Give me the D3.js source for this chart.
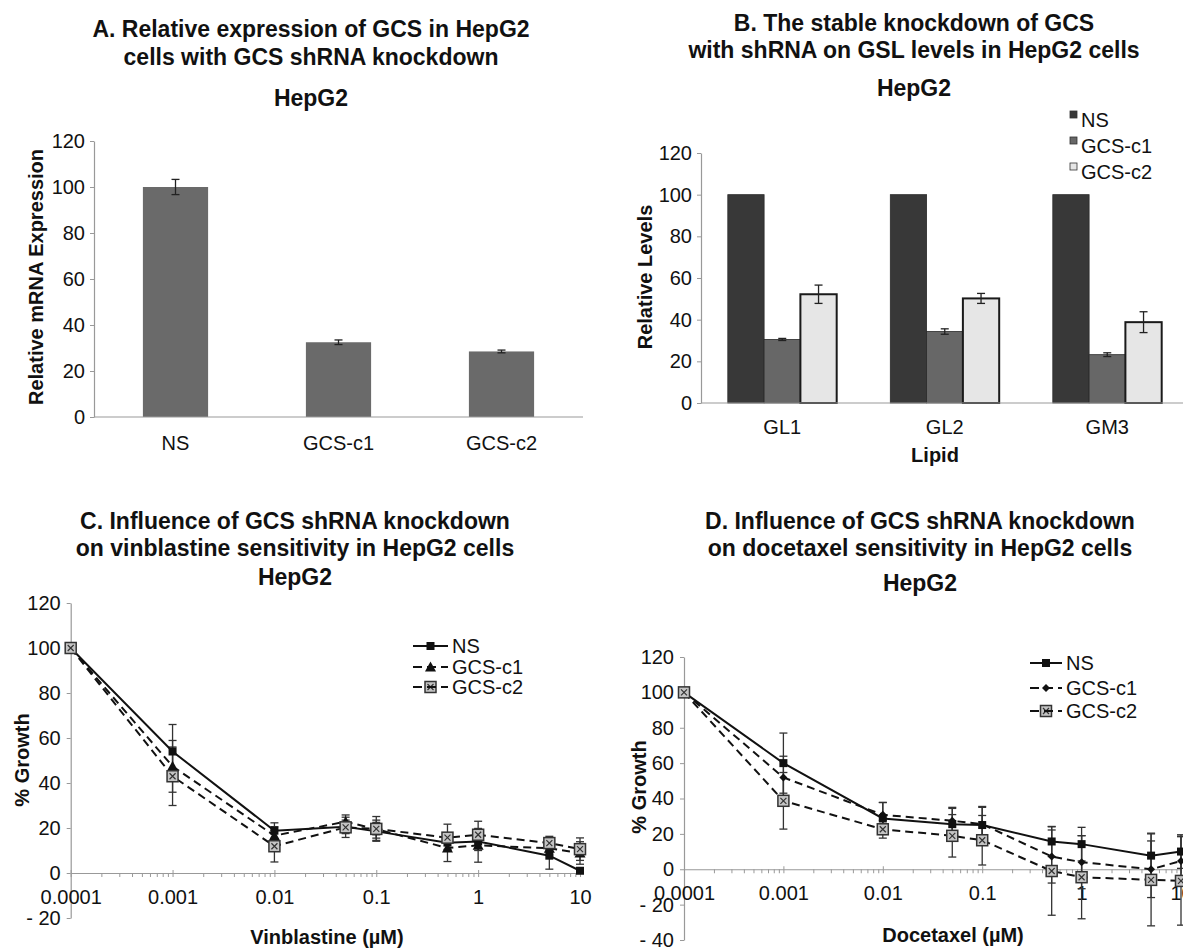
<!DOCTYPE html>
<html><head><meta charset="utf-8">
<script src="https://cdn.jsdelivr.net/npm/d3@7"></script>
<style>
body{margin:0;background:#fff;}
svg text{font-family:"Liberation Sans",Arial,sans-serif;fill:#111;}
</style></head><body>
<svg id="c" width="1183" height="949"></svg>
<script>
// ---------- DATA ----------
const groupsA = ["NS", "GCS-c1", "GCS-c2"];
const valuesA = [100, 32.5, 28.5];
const errorsA = [3.3, 1.0, 0.6];

const lipidsB = ["GL1", "GL2", "GM3"];
const seriesB = ["NS", "GCS-c1", "GCS-c2"];
const nsB = [100, 100, 100];
const c1B = [30.5, 34.3, 23.2];
const c2B = [52.2, 50.2, 38.8];
const nsErrB = [0, 0, 0];
const c1ErrB = [0.5, 1.3, 0.9];
const c2ErrB = [4.4, 2.4, 5.0];

const doses = [0.0001, 0.001, 0.01, 0.05, 0.1, 0.5, 1, 5, 10];
const decadeLabels = ["0.0001", "0.001", "0.01", "0.1", "1", "10"];
const seriesNames = ["NS", "GCS-c1", "GCS-c2"];

const vinNS = [100, 54, 18.8, 20.5, 18.5, 13.5, 14, 7.7, 1];
const vinNSErr = [0, 12, 3.5, 3, 4, 3, 4, 6, 0.5];
const vinC1 = [100, 47.4, 16.6, 22.8, 19.5, 11.1, 12.3, 11, 8.9];
const vinC1Err = [0, 11.5, 4, 3, 4, 6, 7.5, 3, 5];
const vinC2 = [100, 43, 11.9, 20.3, 19.6, 15.7, 17, 13.3, 10.6];
const vinC2Err = [0, 13, 7, 4.5, 5.5, 6, 6, 3, 5];

const docNS = [100, 60, 28.7, 25.5, 25, 15.7, 14.2, 7.7, 10];
const docNSErr = [0, 17, 9, 9.5, 10.5, 8.5, 9.5, 12.7, 9.5];
const docC1 = [100, 51.9, 30.8, 27.4, 25.5, 7.2, 4, 0, 4.7];
const docC1Err = [0, 12, 7, 7, 9.5, 15, 15, 16, 14];
const docC2 = [100, 38.7, 22.6, 18.9, 16.4, -1, -4.5, -6, -6.6];
const docC2Err = [0, 16, 5, 12, 14, 25, 23.5, 26, 25];

// ---------- HELPERS ----------
const svg = d3.select("#c");
const AXIS = "#999";
function titles(lines, x, ys) {
  lines.forEach((t, i) => svg.append("text")
    .attr("x", x).attr("y", ys[i]).attr("text-anchor", "middle")
    .attr("dominant-baseline", "central").attr("font-weight", "bold")
    .attr("font-size", 23).text(t));
}
function ylabel(t, x, y) {
  svg.append("text").attr("transform", `translate(${x},${y}) rotate(-90)`)
    .attr("text-anchor", "middle").attr("dominant-baseline", "central")
    .attr("font-weight", "bold").attr("font-size", 20).text(t);
}
function xlabel(t, x, y) {
  svg.append("text").attr("x", x).attr("y", y).attr("text-anchor", "middle")
    .attr("dominant-baseline", "central").attr("font-weight", "bold")
    .attr("font-size", 20).text(t);
}
function styleAxis(g) {
  g.select(".domain").attr("stroke", AXIS).attr("stroke-width", 1.2);
  g.selectAll(".tick line").attr("stroke", AXIS).attr("stroke-width", 1);
  g.selectAll(".tick text").attr("font-size", 20).attr("fill", "#111")
    .style("font-family", '"Liberation Sans",Arial,sans-serif');
}
function errBar(g, x, y0, y1, cap) {
  g.append("line").attr("x1", x).attr("x2", x).attr("y1", y0).attr("y2", y1);
  g.append("line").attr("x1", x - cap).attr("x2", x + cap).attr("y1", y0).attr("y2", y0);
  g.append("line").attr("x1", x - cap).attr("x2", x + cap).attr("y1", y1).attr("y2", y1);
}

// ---------- PANEL A ----------
titles(["A. Relative expression of GCS in HepG2", "cells with GCS shRNA knockdown", "HepG2"], 311, [29, 57, 98]);
{
  const x = d3.scaleBand().domain(groupsA).range([94, 583]).paddingInner(0.6).paddingOuter(0.3);
  const y = d3.scaleLinear().domain([0, 120]).range([417, 141]);
  const ga = svg.append("g").attr("transform", "translate(94,0)")
    .call(d3.axisLeft(y).tickValues(d3.range(0, 121, 20)).tickSize(4).tickSizeOuter(0).tickPadding(5));
  styleAxis(ga);
  svg.selectAll(".barA").data(groupsA).join("rect").attr("class", "barA")
    .attr("x", d => x(d)).attr("width", x.bandwidth())
    .attr("y", (d, i) => y(valuesA[i])).attr("height", (d, i) => y(0) - y(valuesA[i]))
    .attr("fill", "#6a6a6a");
  const gx = svg.append("g").attr("transform", `translate(0,${y(0)})`)
    .call(d3.axisBottom(x).tickSize(0).tickPadding(19));
  styleAxis(gx);
  gx.select(".domain").attr("d", `M94,0H583`);
  const ge = svg.append("g").attr("stroke", "#222").attr("stroke-width", 1.3);
  groupsA.forEach((d, i) => errBar(ge, x(d) + x.bandwidth() / 2, y(valuesA[i] - errorsA[i]), y(valuesA[i] + errorsA[i]), 4));
  ylabel("Relative mRNA Expression", 36, 277);
}

// ---------- PANEL B ----------
titles(["B. The stable knockdown of GCS", "with shRNA on GSL levels in HepG2 cells", "HepG2"], 914, [23, 50, 88]);
{
  const x0 = d3.scaleBand().domain(lipidsB).range([701, 1188.5]).paddingInner(0.33).paddingOuter(0.165);
  const x1 = d3.scaleBand().domain(seriesB).range([0, x0.bandwidth()]);
  const y = d3.scaleLinear().domain([0, 120]).range([403, 153]);
  const colors = { "NS": "#383838", "GCS-c1": "#676767", "GCS-c2": "#e6e6e6" };
  const vals = { "NS": nsB, "GCS-c1": c1B, "GCS-c2": c2B };
  const errs = { "NS": nsErrB, "GCS-c1": c1ErrB, "GCS-c2": c2ErrB };
  const ga = svg.append("g").attr("transform", "translate(701,0)")
    .call(d3.axisLeft(y).tickValues(d3.range(0, 121, 20)).tickSize(4).tickSizeOuter(0).tickPadding(5));
  styleAxis(ga);
  const rows = [];
  lipidsB.forEach((l, i) => seriesB.forEach(s => rows.push({ l, s, v: vals[s][i], e: errs[s][i] })));
  svg.selectAll(".barB").data(rows).join("rect").attr("class", "barB")
    .attr("x", d => x0(d.l) + x1(d.s)).attr("width", x1.bandwidth())
    .attr("y", d => y(d.v)).attr("height", d => y(0) - y(d.v))
    .attr("fill", d => colors[d.s])
    .attr("stroke", d => d.s === "GCS-c2" ? "#1a1a1a" : "#2a2a2a")
    .attr("stroke-width", d => d.s === "GCS-c2" ? 2 : 0.8);
  const gx = svg.append("g").attr("transform", `translate(0,${y(0)})`)
    .call(d3.axisBottom(x0).tickSize(0).tickPadding(17));
  styleAxis(gx);
  gx.select(".domain").attr("d", `M701,0H1183`);
  const ge = svg.append("g").attr("stroke", "#222").attr("stroke-width", 1.3);
  rows.filter(d => d.e > 0).forEach(d => errBar(ge, x0(d.l) + x1(d.s) + x1.bandwidth() / 2, y(d.v - d.e), y(d.v + d.e), 4));
  xlabel("Lipid", 935, 455);
  ylabel("Relative Levels", 645, 277);
  // legend
  const lg = svg.append("g");
  seriesB.forEach((s, i) => {
    const yy = [120, 146, 172][i];
    lg.append("rect").attr("x", 1070).attr("y", yy - 9).attr("width", 7).attr("height", 7)
      .attr("fill", colors[s]).attr("stroke", "#333").attr("stroke-width", 0.8);
    lg.append("text").attr("x", 1081).attr("y", yy).attr("dominant-baseline", "central")
      .attr("font-size", 20).text(s);
  });
}

// ---------- LINE PANELS ----------
function marker(g, type, cx, cy) {
  if (type === "square") {
    g.append("rect").attr("x", cx - 4).attr("y", cy - 4).attr("width", 8).attr("height", 8).attr("fill", "#111");
  } else if (type === "triangle") {
    g.append("path").attr("d", `M${cx},${cy - 5.5}L${cx + 5.5},${cy + 4.5}L${cx - 5.5},${cy + 4.5}Z`).attr("fill", "#111");
  } else if (type === "diamond") {
    g.append("path").attr("d", `M${cx},${cy - 4}L${cx + 4},${cy}L${cx},${cy + 4}L${cx - 4},${cy}Z`).attr("fill", "#111");
  } else {
    g.append("rect").attr("x", cx - 5.5).attr("y", cy - 5.5).attr("width", 11).attr("height", 11)
      .attr("fill", "#c4c4c4").attr("stroke", "#333").attr("stroke-width", 1.5);
    g.append("path").attr("d", `M${cx - 3},${cy - 3}L${cx + 3},${cy + 3}M${cx + 3},${cy - 3}L${cx - 3},${cy + 3}`)
      .attr("stroke", "#333").attr("stroke-width", 1.2);
  }
}
function linePanel(cfg) {
  const x = d3.scaleLog().domain([1e-4, 10]).range(cfg.xr);
  const y = d3.scaleLinear().domain(cfg.yd).range(cfg.yr);
  const ga = svg.append("g").attr("transform", `translate(${cfg.xr[0]},0)`)
    .call(d3.axisLeft(y).tickValues(d3.range(cfg.yd[0], cfg.yd[1] + 1, 20)).tickSize(4).tickSizeOuter(0).tickPadding(6)
      .tickFormat(d => d < 0 ? "- " + Math.abs(d) : d));
  styleAxis(ga);
  const minor = [];
  for (let e = -4; e <= 1; e++) for (let m = 1; m <= 9; m++) { const v = m * Math.pow(10, e); if (v <= 10.0001) minor.push(v); }
  const gx = svg.append("g").attr("transform", `translate(0,${y(0)})`)
    .call(d3.axisBottom(x).tickValues(minor).tickSize(4).tickSizeOuter(0).tickPadding(13)
      .tickFormat(d => { const k = Math.round(Math.log10(d)); return Math.abs(d - Math.pow(10, k)) < 1e-9 ? decadeLabels[k + 4] : ""; }));
  styleAxis(gx);
  gx.selectAll(".tick line").attr("y1", d => { const k = Math.round(Math.log10(d)); return Math.abs(d - Math.pow(10, k)) < 1e-9 ? -3 : 0; });
  const types = ["square", cfg.c1Marker, "xbox"];
  const dash = [null, "8,5", "8,5"];
  const ge = svg.append("g").attr("stroke", "#333").attr("stroke-width", 1.3);
  cfg.series.forEach((s, k) => s.v.forEach((v, i) => { if (s.e[i] > 0) errBar(ge, x(doses[i]), y(v - s.e[i]), y(v + s.e[i]), 4); }));
  const line = d3.line().x((d, i) => x(doses[i])).y(d => y(d));
  cfg.series.forEach((s, k) => svg.append("path").attr("d", line(s.v)).attr("fill", "none")
    .attr("stroke", "#111").attr("stroke-width", 2).attr("stroke-dasharray", dash[k]));
  const gm = svg.append("g");
  cfg.series.forEach((s, k) => s.v.forEach((v, i) => marker(gm, types[k], x(doses[i]), y(v))));
  // legend
  seriesNames.forEach((n, k) => {
    const yy = cfg.legY[k];
    svg.append("line").attr("x1", cfg.legX[0]).attr("x2", cfg.legX[1]).attr("y1", yy).attr("y2", yy)
      .attr("stroke", "#111").attr("stroke-width", 2).attr("stroke-dasharray", k ? "9,5" : null);
    marker(gm, types[k], (cfg.legX[0] + cfg.legX[1]) / 2, yy);
    svg.append("text").attr("x", cfg.legX[1] + 4).attr("y", yy).attr("dominant-baseline", "central")
      .attr("font-size", 20).text(n);
  });
}

titles(["C. Influence of GCS shRNA knockdown", "on vinblastine sensitivity in HepG2 cells", "HepG2"], 295, [521, 548, 577]);
linePanel({
  xr: [70.7, 580], yd: [-20, 120], yr: [918, 603], c1Marker: "triangle",
  series: [{ v: vinNS, e: vinNSErr }, { v: vinC1, e: vinC1Err }, { v: vinC2, e: vinC2Err }],
  legX: [413, 448], legY: [646, 667, 687]
});
ylabel("% Growth", 22, 760);
xlabel("Vinblastine (\u00b5M)", 327, 937);

titles(["D. Influence of GCS shRNA knockdown", "on docetaxel sensitivity in HepG2 cells", "HepG2"], 920, [521, 548, 583]);
linePanel({
  xr: [684, 1181], yd: [-40, 120], yr: [940, 657], c1Marker: "diamond",
  series: [{ v: docNS, e: docNSErr }, { v: docC1, e: docC1Err }, { v: docC2, e: docC2Err }],
  legX: [1030, 1062], legY: [663, 688, 711]
});
ylabel("% Growth", 639, 787);
xlabel("Docetaxel (\u00b5M)", 953, 935);
</script>
</body></html>
